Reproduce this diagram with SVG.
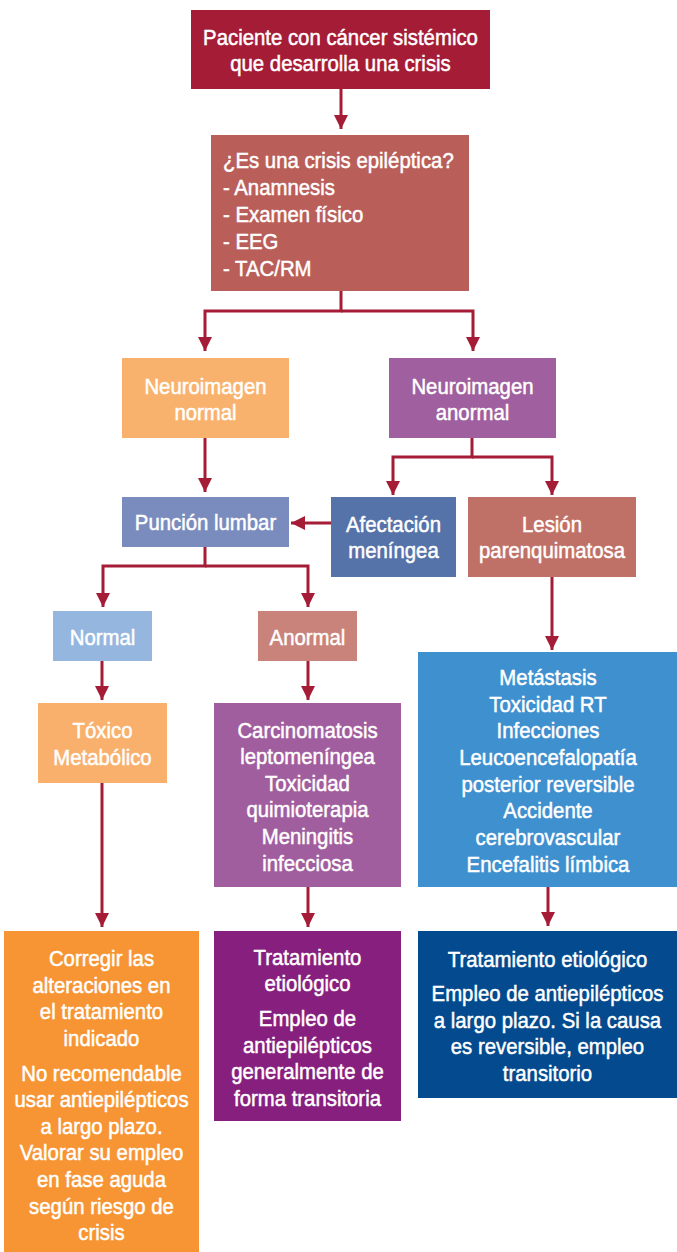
<svg xmlns="http://www.w3.org/2000/svg" width="677" height="1252" viewBox="0 0 677 1252">
<style>
text{font-family:'Liberation Sans',Arial,sans-serif;font-size:22px;fill:#ffffff;stroke:#ffffff;stroke-width:0.5;text-anchor:middle}
text.l{text-anchor:start}
.c{fill:none;stroke:#a51c36;stroke-width:3}
</style>
<defs>
<marker id="ah" markerUnits="userSpaceOnUse" markerWidth="15" markerHeight="14" refX="14" refY="7" orient="auto">
<path d="M0,0 L14,7 L0,14 Z" fill="#a51c36"/>
</marker>
</defs>
<rect width="677" height="1252" fill="#ffffff"/>
<g id="connectors">
<path class="c" d="M341,89 V129" marker-end="url(#ah)"/>
<path class="c" d="M341,291 V311 H205 V351" marker-end="url(#ah)"/>
<path class="c" d="M341,311 H473 V351" marker-end="url(#ah)"/>
<path class="c" d="M205,438 V492" marker-end="url(#ah)"/>
<path class="c" d="M472,438 V457 H393 V495" marker-end="url(#ah)"/>
<path class="c" d="M472,457 H552 V495" marker-end="url(#ah)"/>
<path class="c" d="M331,523 H291" marker-end="url(#ah)"/>
<path class="c" d="M205,547 V566 H103 V607" marker-end="url(#ah)"/>
<path class="c" d="M205,566 H308 V607" marker-end="url(#ah)"/>
<path class="c" d="M102,661 V700" marker-end="url(#ah)"/>
<path class="c" d="M308,661 V700" marker-end="url(#ah)"/>
<path class="c" d="M552,577 V650" marker-end="url(#ah)"/>
<path class="c" d="M102,783 V927" marker-end="url(#ah)"/>
<path class="c" d="M308,887 V927" marker-end="url(#ah)"/>
<path class="c" d="M548,887 V926" marker-end="url(#ah)"/>
</g>
<g id="n1">
<rect x="191" y="10" width="299" height="79" fill="#a51c36"/>
<g transform="matrix(0.925 0 0 1 25.5375 0)">
<text x="340.5" y="45">Paciente con cáncer sistémico</text>
<text x="340.5" y="71.5">que desarrolla una crisis</text>
</g>
</g>
<g id="n2">
<rect x="211" y="135" width="258" height="156" fill="#b95e59"/>
<g transform="matrix(0.925 0 0 1 16.725 0)">
<text class="l" x="223" y="168">¿Es una crisis epiléptica?</text>
<text class="l" x="223" y="195">- Anamnesis</text>
<text class="l" x="223" y="222">- Examen físico</text>
<text class="l" x="223" y="249">- EEG</text>
<text class="l" x="223" y="276">- TAC/RM</text>
</g>
</g>
<g id="n3">
<rect x="122" y="358" width="167" height="80" fill="#f9b26e"/>
<g transform="matrix(0.925 0 0 1 15.4125 0)">
<text x="205.5" y="394">Neuroimagen</text>
<text x="205.5" y="420.5">normal</text>
</g>
</g>
<g id="n4">
<rect x="389" y="358" width="167" height="80" fill="#a05f9e"/>
<g transform="matrix(0.925 0 0 1 35.4375 0)">
<text x="472.5" y="394">Neuroimagen</text>
<text x="472.5" y="420.5">anormal</text>
</g>
</g>
<g id="n5">
<rect x="122" y="497" width="167" height="50" fill="#7a8bbd"/>
<g transform="matrix(0.925 0 0 1 15.4125 0)">
<text x="205.5" y="530">Punción lumbar</text>
</g>
</g>
<g id="n6">
<rect x="331" y="497" width="125" height="80" fill="#5572a9"/>
<g transform="matrix(0.925 0 0 1 29.5125 0)">
<text x="393.5" y="532.5">Afectación</text>
<text x="393.5" y="558.5">meníngea</text>
</g>
</g>
<g id="n7">
<rect x="468" y="497" width="168" height="80" fill="#c07167"/>
<g transform="matrix(0.925 0 0 1 41.4 0)">
<text x="552" y="532.5">Lesión</text>
<text x="552" y="558.5">parenquimatosa</text>
</g>
</g>
<g id="n8">
<rect x="53" y="611" width="99" height="50" fill="#95b6de"/>
<g transform="matrix(0.925 0 0 1 7.6875 0)">
<text x="102.5" y="645">Normal</text>
</g>
</g>
<g id="n9">
<rect x="258" y="611" width="99" height="50" fill="#c9837b"/>
<g transform="matrix(0.925 0 0 1 23.0625 0)">
<text x="307.5" y="645">Anormal</text>
</g>
</g>
<g id="n10">
<rect x="38" y="703" width="129" height="80" fill="#f9b06c"/>
<g transform="matrix(0.925 0 0 1 7.6875 0)">
<text x="102.5" y="738">Tóxico</text>
<text x="102.5" y="765">Metabólico</text>
</g>
</g>
<g id="n11">
<rect x="214" y="703" width="187" height="184" fill="#a15e9e"/>
<g transform="matrix(0.925 0 0 1 23.0625 0)">
<text x="307.5" y="737.7">Carcinomatosis</text>
<text x="307.5" y="764.3">leptomeníngea</text>
<text x="307.5" y="790.9">Toxicidad</text>
<text x="307.5" y="817.5">quimioterapia</text>
<text x="307.5" y="844.1">Meningitis</text>
<text x="307.5" y="870.7">infecciosa</text>
</g>
</g>
<g id="n12">
<rect x="418" y="652" width="259" height="235" fill="#3f90cf"/>
<g transform="matrix(0.925 0 0 1 41.1 0)">
<text x="548" y="685">Metástasis</text>
<text x="548" y="711.7">Toxicidad RT</text>
<text x="548" y="738.3">Infecciones</text>
<text x="548" y="765">Leucoencefalopatía</text>
<text x="548" y="791.7">posterior reversible</text>
<text x="548" y="818.3">Accidente</text>
<text x="548" y="845">cerebrovascular</text>
<text x="548" y="871.7">Encefalitis límbica</text>
</g>
</g>
<g id="n13">
<rect x="4" y="931" width="195" height="321" fill="#f79535"/>
<g transform="matrix(0.925 0 0 1 7.6125 0)">
<text x="101.5" y="966">Corregir las</text>
<text x="101.5" y="992.7">alteraciones en</text>
<text x="101.5" y="1019.3">el tratamiento</text>
<text x="101.5" y="1046">indicado</text>
<text x="101.5" y="1081">No recomendable</text>
<text x="101.5" y="1107.3">usar antiepilépticos</text>
<text x="101.5" y="1133.9">a largo plazo.</text>
<text x="101.5" y="1160.5">Valorar su empleo</text>
<text x="101.5" y="1187.1">en fase aguda</text>
<text x="101.5" y="1213.7">según riesgo de</text>
<text x="101.5" y="1240.3">crisis</text>
</g>
</g>
<g id="n14">
<rect x="214" y="931" width="187" height="190" fill="#871f7e"/>
<g transform="matrix(0.925 0 0 1 23.0625 0)">
<text x="307.5" y="965">Tratamiento</text>
<text x="307.5" y="991.5">etiológico</text>
<text x="307.5" y="1026">Empleo de</text>
<text x="307.5" y="1052.6">antiepilépticos</text>
<text x="307.5" y="1079.2">generalmente de</text>
<text x="307.5" y="1105.8">forma transitoria</text>
</g>
</g>
<g id="n15">
<rect x="418" y="931" width="259" height="167" fill="#034a8e"/>
<g transform="matrix(0.925 0 0 1 41.0625 0)">
<text x="547.5" y="967">Tratamiento etiológico</text>
<text x="547.5" y="1001">Empleo de antiepilépticos</text>
<text x="547.5" y="1027.6">a largo plazo. Si la causa</text>
<text x="547.5" y="1054.2">es reversible, empleo</text>
<text x="547.5" y="1080.8">transitorio</text>
</g>
</g>
</svg>
